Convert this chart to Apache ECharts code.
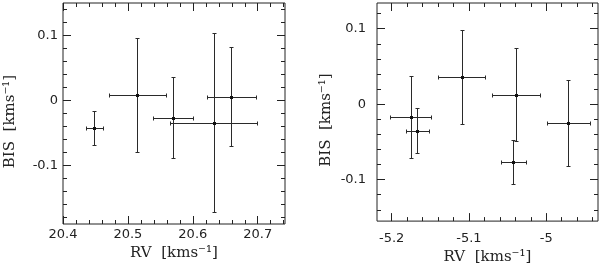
<!DOCTYPE html>
<html>
<head>
<meta charset="utf-8">
<script src="https://cdn.jsdelivr.net/npm/echarts@6/dist/echarts.min.js"></script>
<style>
html,body{margin:0;padding:0;background:#fff;}
#chart{width:600px;height:270px;}
</style>
</head>
<body>
<div id="chart"></div>
<script>
// ---- Left panel data ----
const leftRV      = [20.449, 20.515, 20.570, 20.633, 20.660];
const leftBIS     = [-0.043, 0.008, -0.027, -0.035, 0.005];
const leftRVerr   = [0.013, 0.044, 0.031, 0.067, 0.038];
const leftBISerr  = [0.026, 0.088, 0.062, 0.138, 0.076];

// ---- Right panel data ----
const rightRV     = [-5.175, -5.166, -5.109, -5.039, -5.042, -4.971];
const rightBIS    = [-0.018, -0.036, 0.035, 0.012, -0.077, -0.026];
const rightRVerr  = [0.027, 0.015, 0.031, 0.031, 0.016, 0.028];
const rightBISerr = [0.054, 0.030, 0.062, 0.062, 0.029, 0.057];

// ---- Tick values ----
const leftXMajor  = [20.4, 20.5, 20.6, 20.7];
const leftXMinor  = [20.42, 20.44, 20.46, 20.48, 20.52, 20.54, 20.56, 20.58, 20.62, 20.64, 20.66, 20.68, 20.72, 20.74];
const leftYMajor  = [-0.1, 0, 0.1];
const leftYMinor  = [-0.18, -0.16, -0.14, -0.12, -0.08, -0.06, -0.04, -0.02, 0.02, 0.04, 0.06, 0.08, 0.12, 0.14];
const rightXMajor = [-5.2, -5.1, -5.0];
const rightXMinor = [-5.18, -5.16, -5.14, -5.12, -5.08, -5.06, -5.04, -5.02, -4.98, -4.96, -4.94];
const rightYMajor = [-0.1, 0, 0.1];
const rightYMinor = [-0.14, -0.12, -0.08, -0.06, -0.04, -0.02, 0.02, 0.04, 0.06, 0.08, 0.12];

const xTitle = 'RV  [kms\u207B\u00B9]';
const yTitle = 'BIS  [kms\u207B\u00B9]';

const INK = '#222';
const labelFont = {fontFamily: 'DejaVu Sans', fontSize: 13, color: INK};
const titleFont = {fontFamily: 'DejaVu Serif', fontSize: 15, color: INK};

function fmt(v) {
  if (Math.abs(v) < 1e-9) return '0';
  return String(Math.round(v * 1000) / 1000);
}

function makeAxes(dim, gridIndex, range, major, minor, labelMargin, name, nameGap, namePadding) {
  const posA = dim === 'x' ? 'bottom' : 'left';
  const posB = dim === 'x' ? 'top' : 'right';
  const base = {
    type: 'value', gridIndex: gridIndex, min: range[0], max: range[1],
    axisLine: {show: false, onZero: false}, splitLine: {show: false}
  };
  return [
    Object.assign({}, base, {
      position: posA,
      axisTick: {show: true, inside: true, length: 8, customValues: major, lineStyle: {color: INK, width: 1}},
      axisLabel: Object.assign({show: true, customValues: major, margin: labelMargin, formatter: fmt}, labelFont),
      name: name, nameLocation: 'middle', nameGap: nameGap,
      nameTextStyle: Object.assign({padding: namePadding}, titleFont)
    }),
    Object.assign({}, base, {
      position: posA,
      axisTick: {show: true, inside: true, length: 4, customValues: minor, lineStyle: {color: INK, width: 1}},
      axisLabel: {show: false}
    }),
    Object.assign({}, base, {
      position: posB,
      axisTick: {show: true, inside: true, length: 8, customValues: major, lineStyle: {color: INK, width: 1}},
      axisLabel: {show: false}
    }),
    Object.assign({}, base, {
      position: posB,
      axisTick: {show: true, inside: true, length: 4, customValues: minor, lineStyle: {color: INK, width: 1}},
      axisLabel: {show: false}
    })
  ];
}

function crisp(v) { return Math.round(v - 0.5) + 0.5; }

function renderErr(params, api) {
  const x = api.value(0), y = api.value(1), xe = api.value(2), ye = api.value(3);
  const c = api.coord([x, y]);
  const l = api.coord([x - xe, y]);
  const r = api.coord([x + xe, y]);
  const t = api.coord([x, y + ye]);
  const b = api.coord([x, y - ye]);
  const cx = crisp(c[0]), cy = crisp(c[1]);
  const lx = crisp(l[0]), rx = crisp(r[0]);
  const ty = crisp(t[1]), by = crisp(b[1]);
  const cap = 2;
  const st = {stroke: '#2a2a2a', lineWidth: 1, fill: null};
  const ln = (x1, y1, x2, y2) => ({type: 'line', shape: {x1, y1, x2, y2}, style: st});
  return {
    type: 'group',
    children: [
      ln(lx, cy, rx, cy),
      ln(cx, ty, cx, by),
      ln(lx, cy - cap, lx, cy + cap),
      ln(rx, cy - cap, rx, cy + cap),
      ln(cx - cap, ty, cx + cap, ty),
      ln(cx - cap, by, cx + cap, by),
      {type: 'rect', shape: {x: cx - 1.5, y: cy - 1.5, width: 3, height: 3}, style: {fill: '#111', stroke: null}}
    ]
  };
}

function zip(a, b, c, d) { return a.map((v, i) => [v, b[i], c[i], d[i]]); }

const xAxes = [].concat(
  makeAxes('x', 0, [20.4, 20.742], leftXMajor, leftXMinor, 4, xTitle, 21, [0, 0, 0, 0]),
  makeAxes('x', 1, [-5.219, -4.933], rightXMajor, rightXMinor, 11, xTitle, 22, [0, 0, 0, 0])
);
const yAxes = [].concat(
  makeAxes('y', 0, [-0.19, 0.15], leftYMajor, leftYMinor, 5, yTitle, 45, [0, 16, 0, 0]),
  makeAxes('y', 1, [-0.155, 0.134], rightYMajor, rightYMinor, 11, yTitle, 43, [0, 16, 0, 0])
);

const chart = echarts.init(document.getElementById('chart'), null, {renderer: 'canvas'});
chart.setOption({
  animation: false,
  backgroundColor: '#fff',
  grid: [
    {left: 63, top: 3, width: 222, height: 221, show: true, borderColor: INK, borderWidth: 1, backgroundColor: 'transparent'},
    {left: 377, top: 3, width: 221, height: 221, show: true, borderColor: INK, borderWidth: 1, backgroundColor: 'transparent'}
  ],
  xAxis: xAxes,
  yAxis: yAxes,
  series: [
    {type: 'custom', name: 'left', xAxisIndex: 0, yAxisIndex: 0, renderItem: renderErr,
     data: zip(leftRV, leftBIS, leftRVerr, leftBISerr), clip: false},
    {type: 'custom', name: 'right', xAxisIndex: 4, yAxisIndex: 4, renderItem: renderErr,
     data: zip(rightRV, rightBIS, rightRVerr, rightBISerr), clip: false}
  ]
});
</script>
</body>
</html>
